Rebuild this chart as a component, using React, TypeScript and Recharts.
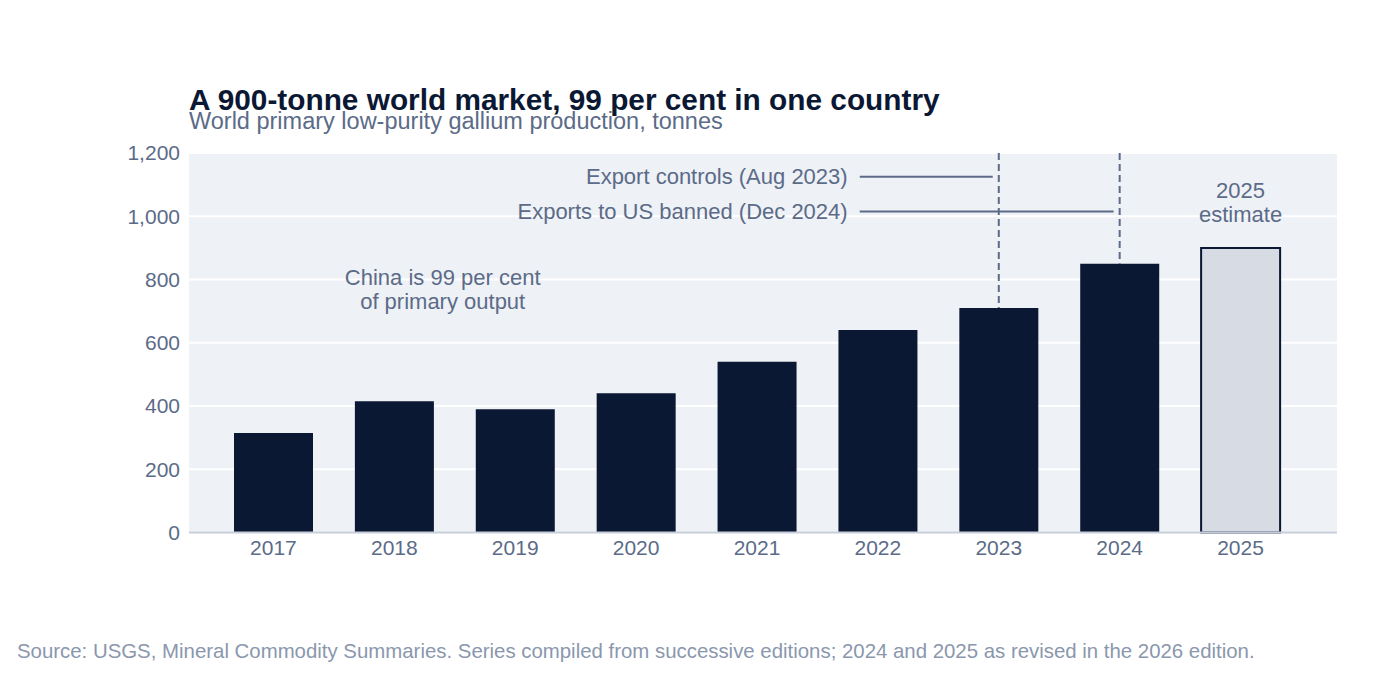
import React from 'react'
import {
  BarChart,
  Bar,
  XAxis,
  YAxis,
  CartesianGrid,
  Cell,
  ReferenceLine,
  ReferenceDot,
} from 'recharts'

// World primary low-purity gallium production, tonnes (USGS MCS)
const years = ['2017', '2018', '2019', '2020', '2021', '2022', '2023', '2024', '2025']
const production = [315, 415, 390, 440, 540, 640, 710, 850, 900]
const estimateYear = '2025'
const yTicks = [0, 200, 400, 600, 800, 1000, 1200]

// policy events, drawn as leader lines from a common start column
const eventStartYear = '2022'
const eventYears = ['2023', '2024']
const eventLabels = ['Export controls (Aug 2023)', 'Exports to US banned (Dec 2024)']
const eventLevels = [1125, 1015]

const NAVY = '#0b1833'
const SLATE = '#5b6b88'
const FONT = '"Liberation Sans", Arial, sans-serif'

const data = years.map((year, i) => ({ year, production: production[i] }))

const eventShape = (label: string, steps: number) => (p: any) => {
  const band = (p.x2 - p.x1) / steps
  return (
    <g>
      <line
        x1={p.x1 - 0.15 * band}
        x2={p.x2 - 0.05 * band}
        y1={p.y1}
        y2={p.y2}
        stroke={SLATE}
        strokeWidth={2}
      />
      <text
        x={p.x1 - 0.25 * band}
        y={p.y1 + 7}
        textAnchor="end"
        fill={SLATE}
        fontSize={22}
        fontFamily={FONT}
      >
        {label}
      </text>
    </g>
  )
}

const chinaNote = (p: any) => {
  const x = p.x1 + 0.4 * (p.x2 - p.x1)
  return (
    <text x={x} y={p.y1} textAnchor="middle" fill={SLATE} fontSize={22} fontFamily={FONT}>
      <tspan x={x} dy={-4.5}>China is 99 per cent</tspan>
      <tspan x={x} dy={24}>of primary output</tspan>
    </text>
  )
}

const estimateNote = (p: any) => (
  <text x={p.cx} y={p.cy} textAnchor="middle" fill={SLATE} fontSize={22} fontFamily={FONT}>
    <tspan x={p.cx} dy={-4.5}>2025</tspan>
    <tspan x={p.cx} dy={24}>estimate</tspan>
  </text>
)

export default function App() {
  const startIdx = years.indexOf(eventStartYear)

  return (
    <div
      style={{
        position: 'absolute',
        left: 0,
        top: 0,
        width: 1400,
        height: 677,
        background: '#ffffff',
        fontFamily: FONT,
      }}
    >
      <div
        style={{
          position: 'absolute',
          left: 189,
          top: 86.5,
          fontSize: 29.8,
          lineHeight: 0.85,
          fontWeight: 700,
          color: NAVY,
          whiteSpace: 'nowrap',
        }}
      >
        A 900-tonne world market, 99 per cent in one country
      </div>
      <div
        style={{
          position: 'absolute',
          left: 189,
          top: 112,
          fontSize: 23.5,
          lineHeight: 0.85,
          color: SLATE,
          whiteSpace: 'nowrap',
        }}
      >
        World primary low-purity gallium production, tonnes
      </div>

      <div style={{ position: 'absolute', left: 0, top: 0 }}>
        <BarChart
          width={1400}
          height={677}
          data={data}
          margin={{ top: 153, right: 63, bottom: 104.5, left: 109 }}
        >
          <CartesianGrid vertical={false} fill="#eef1f6" stroke="#ffffff" strokeWidth={2} />
          <XAxis
            dataKey="year"
            height={40}
            padding={{ left: 24, right: 36 }}
            tickLine={false}
            tickSize={0}
            tickMargin={8}
            axisLine={{ stroke: '#c7ceda', strokeWidth: 2 }}
            tick={{ fill: SLATE, fontSize: 21, fontFamily: FONT }}
          />
          <YAxis
            width={80}
            domain={[0, 1200]}
            ticks={yTicks}
            tickLine={false}
            axisLine={false}
            tickSize={0}
            tickMargin={9}
            tick={{ fill: SLATE, fontSize: 21, fontFamily: FONT }}
            tickFormatter={(v) => v.toLocaleString('en-US')}
          />
          <Bar dataKey="production" barSize={79} isAnimationActive={false}>
            {data.map((d) => (
              <Cell
                key={d.year}
                fill={d.year === estimateYear ? '#d6dbe4' : NAVY}
                stroke={d.year === estimateYear ? NAVY : 'none'}
                strokeWidth={d.year === estimateYear ? 2 : 0}
              />
            ))}
          </Bar>

          {eventYears.map((year) => (
            <ReferenceLine
              key={`v-${year}`}
              segment={[
                { x: year, y: 1200 },
                { x: year, y: production[years.indexOf(year)] },
              ]}
              stroke={SLATE}
              strokeWidth={2}
              strokeDasharray="7 4"
              ifOverflow="visible"
            />
          ))}
          {eventYears.map((year, i) => (
            <ReferenceLine
              key={`h-${year}`}
              segment={[
                { x: eventStartYear, y: eventLevels[i] },
                { x: year, y: eventLevels[i] },
              ]}
              ifOverflow="visible"
              shape={eventShape(eventLabels[i], years.indexOf(year) - startIdx)}
            />
          ))}
          <ReferenceLine
            segment={[
              { x: '2018', y: 767 },
              { x: '2019', y: 767 },
            ]}
            ifOverflow="visible"
            shape={chinaNote}
          />
          <ReferenceDot x={estimateYear} y={1042} ifOverflow="visible" shape={estimateNote} />
        </BarChart>
      </div>

      <div
        style={{
          position: 'absolute',
          left: 17,
          top: 640,
          fontSize: 20.4,
          color: '#8a97ad',
          whiteSpace: 'nowrap',
        }}
      >
        Source: USGS, Mineral Commodity Summaries. Series compiled from successive editions; 2024 and 2025 as revised in the 2026 edition.
      </div>
    </div>
  )
}
